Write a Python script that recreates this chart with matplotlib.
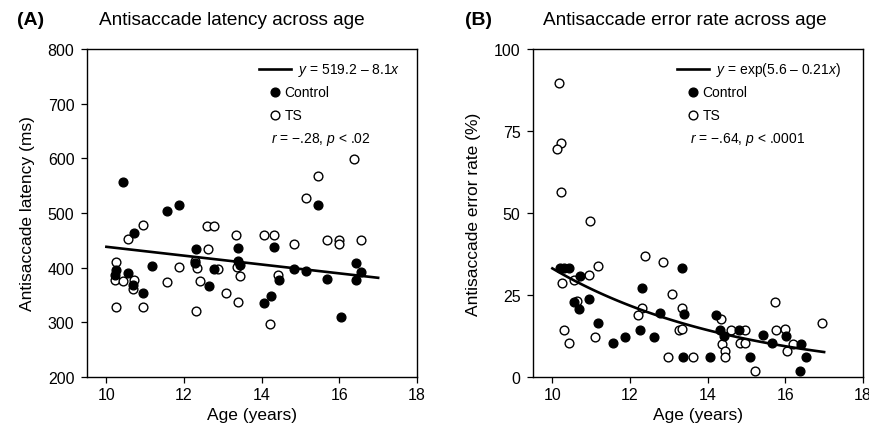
import numpy as np
import matplotlib
matplotlib.use("Agg")
import matplotlib.pyplot as plt

plt.rcParams['font.family'] = ['Liberation Sans', 'DejaVu Sans']
plt.rcParams['mathtext.fontset'] = 'custom'
plt.rcParams['mathtext.rm'] = 'Liberation Sans'
plt.rcParams['mathtext.it'] = 'Liberation Sans:italic'

# panel A: antisaccade latency (ms) vs age
a_ctrl_age = [10.42, 11.56, 11.88, 10.71, 12.31, 13.39, 10.25, 10.22, 10.56, 10.69,
              10.94, 11.18, 12.28, 12.64, 12.78, 13.40, 13.44, 15.46, 14.32, 16.42,
              16.56, 16.42, 14.84, 15.14, 15.69, 14.45, 14.23, 14.06, 16.05]
a_ctrl_lat = [556, 504, 515, 464, 434, 436, 395, 387, 390, 369,
              354, 403, 408, 367, 398, 412, 404, 515, 437, 408,
              392, 378, 397, 394, 379, 378, 349, 336, 309]
a_ts_age = [10.95, 10.56, 12.60, 12.78, 13.35, 12.63, 10.24, 10.22, 10.43, 10.71,
            10.69, 11.88, 11.57, 12.28, 12.33, 12.40, 12.87, 13.08, 13.36, 13.45,
            10.24, 10.94, 12.31, 13.38, 16.39, 15.45, 15.14, 14.06, 14.32, 14.83,
            15.69, 16.00, 15.99, 16.56, 14.43, 14.22]
a_ts_lat = [478, 453, 477, 476, 459, 435, 411, 378, 376, 378,
            361, 401, 374, 413, 400, 376, 398, 354, 401, 384,
            328, 328, 321, 337, 599, 567, 527, 460, 460, 443,
            450, 451, 444, 451, 387, 297]
a_fit = (519.2, -8.1)          # y = a + b*x

# panel B: antisaccade error rate (%) vs age
b_ctrl_age = [10.20, 10.29, 10.44, 10.70, 10.56, 10.68, 10.94, 11.18, 11.57, 11.87,
              12.27, 12.62, 12.31, 12.78, 13.35, 13.40, 13.37, 14.06, 14.21, 14.32,
              14.42, 14.80, 15.10, 15.42, 15.67, 16.03, 16.40, 16.54, 16.38]
b_ctrl_err = [33.1, 33.1, 33.1, 30.9, 22.8, 20.7, 23.8, 16.5, 10.3, 12.3,
              14.3, 12.3, 27.0, 19.4, 33.1, 19.1, 6.0, 6.0, 18.9, 14.3,
              12.6, 14.3, 6.0, 12.9, 10.4, 12.4, 10.1, 6.0, 1.7]
b_ts_age = [10.16, 10.21, 10.12, 10.21, 10.96, 10.94, 11.17, 10.56, 10.25, 10.63,
            10.31, 10.43, 11.10, 12.39, 12.84, 12.31, 12.20, 13.07, 13.33, 13.26,
            13.35, 12.99, 13.61, 14.35, 14.38, 14.44, 14.46, 14.61, 14.96, 14.83,
            14.96, 15.23, 15.74, 15.77, 15.98, 16.04, 16.20, 16.94]
b_ts_err = [89.5, 71.3, 69.5, 56.3, 47.7, 31.1, 33.9, 29.7, 28.7, 23.3,
            14.2, 10.3, 12.3, 36.8, 35.2, 21.1, 19.0, 25.3, 21.1, 14.4,
            14.6, 6.0, 6.0, 17.7, 10.1, 8.0, 6.0, 14.3, 14.3, 10.3,
            10.3, 1.7, 22.8, 14.3, 14.6, 8.0, 10.1, 16.5]
b_fit = (5.6, -0.21)           # y = exp(a + b*x)

fit_x = np.linspace(10, 17, 100)

fig = plt.figure(figsize=(8.69, 4.35), dpi=100)
axA = fig.add_axes([0.1001, 0.131, 0.3797, 0.754])
axB = fig.add_axes([0.6133, 0.131, 0.3797, 0.754])

ms = 6.3
panels = [
    (axA, a_ctrl_age, a_ctrl_lat, a_ts_age, a_ts_lat, a_fit[0] + a_fit[1] * fit_x,
     (200, 800), [200, 300, 400, 500, 600, 700, 800], 'Antisaccade latency (ms)',
     r'$y$ = 519.2 – 8.1$x$', r'$r$ = −.28, $p$ < .02', 0.520),
    (axB, b_ctrl_age, b_ctrl_err, b_ts_age, b_ts_err, np.exp(b_fit[0] + b_fit[1] * fit_x),
     (0, 100), [0, 25, 50, 75, 100], 'Antisaccade error rate (%)',
     r'$y$ = exp(5.6 – 0.21$x$)', r'$r$ = −.64, $p$ < .0001', 0.436),
]

for ax, cx, cy, tx, ty, fy, ylim, yt, ylab, eq, rtxt, lx in panels:
    ax.plot(tx, ty, 'o', ms=ms, mfc='white', mec='black', mew=1.0, zorder=3)
    ax.plot(cx, cy, 'o', ms=ms, mfc='black', mec='black', mew=1.0, zorder=4)
    ax.plot(fit_x, fy, color='black', lw=1.9, zorder=5)
    ax.set_xlim(9.5, 18)
    ax.set_ylim(*ylim)
    ax.set_xticks([10, 12, 14, 16, 18])
    ax.set_yticks(yt)
    ax.tick_params(direction='out', length=4, width=0.9, labelsize=11.5, pad=3)
    ax.tick_params(axis='y', pad=5)
    for s in ax.spines.values():
        s.set_linewidth(1.0)
    ax.set_xlabel('Age (years)', fontsize=12.5, labelpad=4)
    ax.set_ylabel(ylab, fontsize=12.5, labelpad=9)

    # hand-made legend
    hw = 0.097
    mx = lx + hw / 2
    ax.plot([lx, lx + hw], [0.939, 0.939], color='black', lw=1.9, transform=ax.transAxes)
    ax.text(lx + hw + 0.022, 0.939, eq, transform=ax.transAxes, fontsize=10, va='center')
    ax.plot([mx], [0.868], 'o', ms=ms, mfc='black', mec='black', transform=ax.transAxes)
    ax.text(mx + 0.03, 0.868, 'Control', transform=ax.transAxes, fontsize=10, va='center')
    ax.plot([mx], [0.798], 'o', ms=ms, mfc='white', mec='black', mew=1.0, transform=ax.transAxes)
    ax.text(mx + 0.03, 0.798, 'TS', transform=ax.transAxes, fontsize=10, va='center')
    ax.text(mx - 0.01, 0.726, rtxt, transform=ax.transAxes, fontsize=10, va='center')

fig.text(0.0196, 0.954, '(A)', fontsize=14, fontweight='bold', va='center')
fig.text(0.114, 0.954, 'Antisaccade latency across age', fontsize=13.7, va='center')
fig.text(0.535, 0.954, '(B)', fontsize=14, fontweight='bold', va='center')
fig.text(0.625, 0.954, 'Antisaccade error rate across age', fontsize=13.7, va='center')

fig.savefig('out.png', dpi=100)
